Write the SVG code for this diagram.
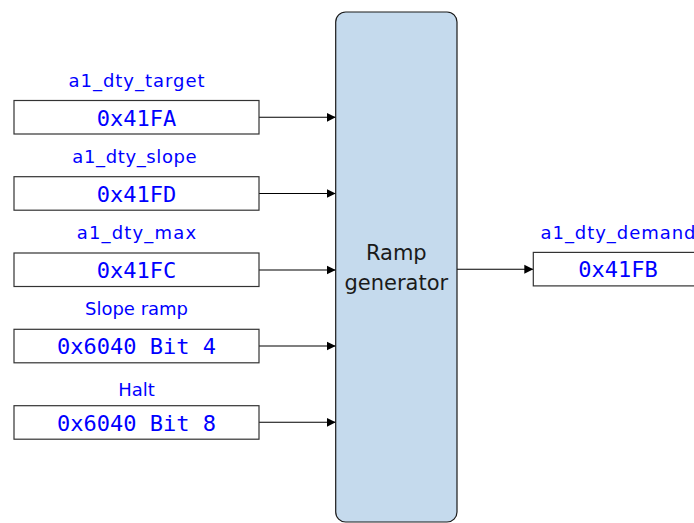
<svg xmlns="http://www.w3.org/2000/svg" width="694" height="523" viewBox="0 0 694 523">
<style>
.box{fill:#ffffff;stroke:#333333;stroke-width:1.2}
.gen{fill:#c5daed;stroke:#1a1a1a;stroke-width:1.2}
.lbl{font-family:"DejaVu Sans",sans-serif;font-size:18px;fill:#0000ff;text-anchor:middle}
.val{font-family:"DejaVu Sans Mono",monospace;font-size:22px;fill:#0000ff;text-anchor:middle}
.gtxt{font-family:"DejaVu Sans",sans-serif;font-size:21px;fill:#1a1a1a;text-anchor:middle}
.con{stroke:#000000;stroke-width:1.1;fill:none;marker-end:url(#ah)}
</style>
<defs>
<marker id="ah" markerWidth="10" markerHeight="10" refX="9" refY="5" orient="auto" markerUnits="userSpaceOnUse">
<path d="M0,0.5 L9,5 L0,9.5 Z" fill="#000000"/>
</marker>
</defs>
<rect width="694" height="523" fill="#ffffff"/>
<g id="connectors">
<line class="con" x1="259" y1="117.3" x2="335.7" y2="117.3"/>
<line class="con" x1="259" y1="193.5" x2="335.7" y2="193.5"/>
<line class="con" x1="259" y1="270" x2="335.7" y2="270"/>
<line class="con" x1="259" y1="346" x2="335.7" y2="346"/>
<line class="con" x1="259" y1="422.3" x2="335.7" y2="422.3"/>
<line class="con" x1="457" y1="269.2" x2="533.3" y2="269.2"/>
</g>
<g id="ramp-generator">
<rect class="gen" x="335.7" y="12" width="121.3" height="510" rx="10"/>
<text class="gtxt" x="396.3" y="260">Ramp</text>
<text class="gtxt" x="396.3" y="290">generator</text>
</g>
<g id="in-target">
<text class="lbl" x="136.5" y="86.7" textLength="136" lengthAdjust="spacing">a1_dty_target</text>
<rect class="box" x="14" y="100.5" width="245" height="33.5"/>
<text class="val" x="136.5" y="125.5">0x41FA</text>
</g>
<g id="in-slope">
<text class="lbl" x="134.5" y="162.7" textLength="124.4" lengthAdjust="spacing">a1_dty_slope</text>
<rect class="box" x="14" y="176.7" width="245" height="33.5"/>
<text class="val" x="136.5" y="201.8">0x41FD</text>
</g>
<g id="in-max">
<text class="lbl" x="136.4" y="239" textLength="119.3" lengthAdjust="spacing">a1_dty_max</text>
<rect class="box" x="14" y="253" width="245" height="33.5"/>
<text class="val" x="136.5" y="278.2">0x41FC</text>
</g>
<g id="in-sloperamp">
<text class="lbl" x="136.5" y="315.3">Slope ramp</text>
<rect class="box" x="14" y="329.3" width="245" height="33.5"/>
<text class="val" x="136.5" y="354.3">0x6040 Bit 4</text>
</g>
<g id="in-halt">
<text class="lbl" x="136.5" y="396">Halt</text>
<rect class="box" x="14" y="405.7" width="245" height="33.5"/>
<text class="val" x="136.5" y="430.6">0x6040 Bit 8</text>
</g>
<g id="out-demand">
<text class="lbl" x="618" y="238.5" textLength="155" lengthAdjust="spacing">a1_dty_demand</text>
<rect class="box" x="533.3" y="252.4" width="170" height="33.5"/>
<text class="val" x="618" y="277">0x41FB</text>
</g>
</svg>
